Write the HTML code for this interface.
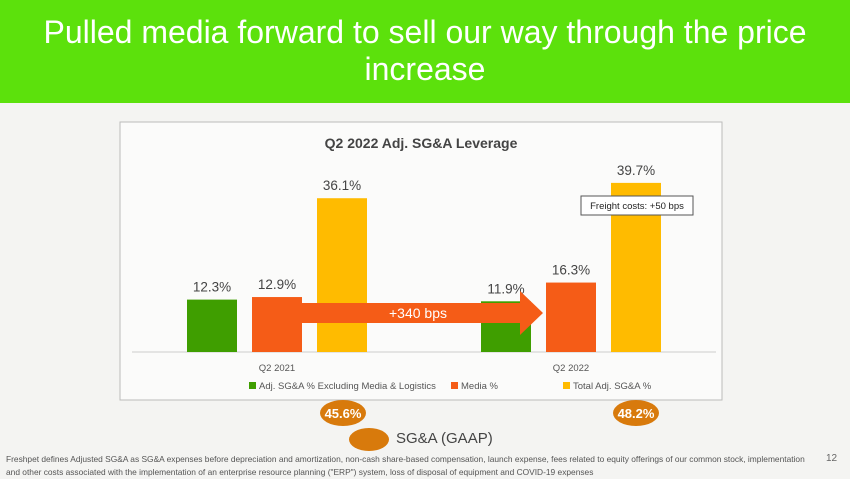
<!DOCTYPE html>
<html><head><meta charset="utf-8"><style>
body{margin:0;width:850px;height:478px;overflow:hidden;background:#f4f4f2;font-family:"Liberation Sans",sans-serif;position:relative}
.hdr{position:absolute;left:0;top:0;width:850px;height:103px;background:#5ce10c;color:#fff;text-align:center;font-size:32px;line-height:37px;padding-top:14px;box-sizing:border-box}
.oval{position:absolute;background:#d87a0c;border-radius:50%;color:#fff;font-weight:bold;font-size:13px;display:flex;align-items:center;justify-content:center}
.fn{position:absolute;left:6px;top:453px;font-size:8.4px;color:#555;line-height:13px;width:800px}
</style></head><body>
<div class="hdr">Pulled media forward to sell our way through the price<br>increase</div>
<svg width="850" height="478" style="position:absolute;left:0;top:0">
<rect x="120" y="122" width="602" height="278" fill="#fbfbfa" stroke="#bbb"/>
<text x="421" y="148" text-anchor="middle" font-size="14" font-weight="bold" fill="#444">Q2 2022 Adj. SG&amp;A Leverage</text>
<line x1="132" y1="352" x2="716" y2="352" stroke="#ccc"/>
<g id="bars"></g>
<polygon points="302,303 520,303 520,291 543,313 520,335 520,323 302,323" fill="#f55c17"/>
<text x="418" y="318" text-anchor="middle" font-size="14" fill="#fff">+340 bps</text>
<rect x="581" y="196" width="112" height="19" fill="#fff" stroke="#555"/>
<text x="637" y="209" text-anchor="middle" font-size="9.5" fill="#222">Freight costs: +50 bps</text>
<g id="legend" font-size="9.5" fill="#555"></g>
</svg>
<div class="oval" style="left:320px;top:400px;width:46px;height:26px">45.6%</div>
<div class="oval" style="left:613px;top:400px;width:46px;height:26px">48.2%</div>
<div class="oval" style="left:349px;top:428px;width:40px;height:23px"></div>
<div style="position:absolute;left:396px;top:430px;font-size:15px;color:#444">SG&amp;A (GAAP)</div>
<div class="fn">Freshpet defines Adjusted SG&amp;A as SG&amp;A expenses before depreciation and amortization, non-cash share-based compensation, launch expense, fees related to equity offerings of our common stock, implementation and other costs associated with the implementation of an enterprise resource planning ("ERP") system, loss of disposal of equipment and COVID-19 expenses</div>
<div style="position:absolute;left:826px;top:453px;font-size:10px;color:#666">12</div>
<script>
const categories=["Q2 2021","Q2 2022"];
const seriesNames=["Adj. SG&A % Excluding Media & Logistics","Media %","Total Adj. SG&A %"];
const seriesColors=["#3f9e00","#f55c17","#ffbb00"];
const adjExcl=[12.3,11.9];
const media=[12.9,16.3];
const total=[36.1,39.7];
const NS="http://www.w3.org/2000/svg";
const series=[adjExcl,media,total];
const base=352,scale=4.26;
const y=v=>base-v*scale;
const groupX=[187,481],bw=50,step=65;
const g=document.getElementById('bars');
function mk(t,a,p){const e=document.createElementNS(NS,t);for(const k in a)e.setAttribute(k,a[k]);(p||g).appendChild(e);return e;}
categories.forEach((c,ci)=>{
 series.forEach((s,si)=>{
  const x=groupX[ci]+si*step;
  const r=mk('rect',{x:x,y:y(s[ci]),width:bw,height:base-y(s[ci]),fill:seriesColors[si]});
  
  
  const t=mk('text',{x:x+bw/2,y:y(s[ci])-8,'text-anchor':'middle','font-size':'13.5',fill:'#444'});
  t.textContent=s[ci].toFixed(1)+'%';
  
  
 });
 const cl=mk('text',{x:groupX[ci]+step+bw/2,y:371,'text-anchor':'middle','font-size':'9.5',fill:'#555'});
 cl.textContent=c;
 
 
});
const lg=document.getElementById('legend');
const lx=[249,451,563];
seriesNames.forEach((n,i)=>{
 const r=mk('rect',{x:lx[i],y:382,width:7,height:7,fill:seriesColors[i]},lg);
 
 
 const t=mk('text',{x:lx[i]+10,y:389},lg);
 t.textContent=n;
 
 
});
</script>
</body></html>
